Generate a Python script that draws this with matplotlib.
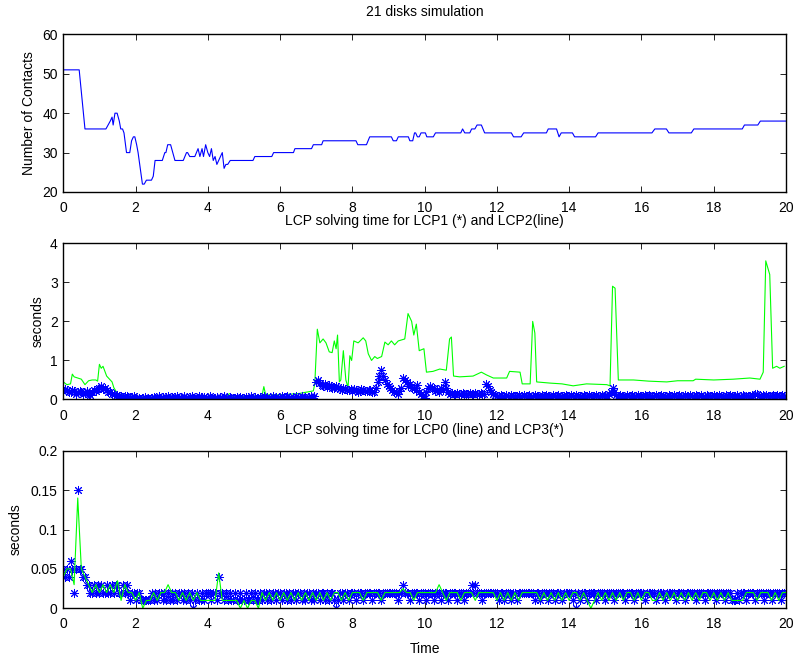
import numpy as np
import matplotlib
matplotlib.use("Agg")
import matplotlib.pyplot as plt

plt.rcParams['font.family'] = ['Liberation Sans', 'DejaVu Sans']
plt.rcParams['font.size'] = 10

# --- top: number of contacts (breakpoints of the trace) ---
contacts_t = [0, 0.44, 0.6, 1.18, 1.24, 1.3, 1.35, 1.38, 1.43, 1.49, 1.55, 1.59, 1.64, 1.68,
              1.75, 1.84, 1.89, 1.94, 1.98, 2.03, 2.07, 2.13, 2.19, 2.24, 2.3, 2.44, 2.49, 2.54,
              2.74, 2.81, 2.84, 2.89, 2.97, 3.03, 3.09, 3.32, 3.41, 3.44, 3.5, 3.64, 3.73, 3.78,
              3.84, 3.88, 3.94, 4.0, 4.05, 4.1, 4.15, 4.2, 4.25, 4.3, 4.4, 4.45, 4.5, 4.55, 4.62,
              5.25, 5.3, 5.77, 5.82, 6.37, 6.41, 6.87, 6.92, 7.15, 7.19, 8.1, 8.15, 8.39, 8.48,
              9.08, 9.13, 9.22, 9.27, 9.55, 9.59, 9.67, 9.72, 9.75, 9.8, 9.85, 9.9, 10.02, 10.06,
              10.24, 10.3, 11.0, 11.05, 11.11, 11.25, 11.3, 11.39, 11.45, 11.57, 11.66, 12.4,
              12.46, 12.67, 12.74, 13.37, 13.42, 13.65, 13.72, 13.78, 14.09, 14.15, 14.73, 14.8,
              16.29, 16.37, 16.69, 16.76, 17.38, 17.45, 18.79, 18.85, 19.22, 19.29, 20.0]
contacts_n = [51, 51, 36, 36, 37, 38, 39, 37, 40, 40, 38, 36, 36, 35,
              30, 30, 33, 34, 34, 32, 30, 26, 22, 22, 23, 23, 24, 28,
              28, 30, 30, 32, 32, 30, 28, 28, 30, 30, 29, 29, 31, 29,
              31, 29, 32, 30, 29, 31, 28, 29, 27, 28, 30, 26, 27, 27, 28,
              28, 29, 29, 30, 30, 31, 31, 32, 32, 33, 33, 32, 32, 34,
              34, 33, 33, 34, 34, 33, 33, 35, 35, 34, 34, 35, 35, 34,
              34, 35, 35, 36, 35, 35, 36, 36, 37, 37, 35, 35,
              34, 34, 35, 35, 36, 36, 34, 35, 35, 34, 34, 35,
              35, 36, 36, 35, 35, 36, 36, 37, 37, 38, 38]

# --- middle: LCP2 (line) breakpoints ---
lcp2_t = [0.0, 0.1, 0.2, 0.25, 0.3, 0.4, 0.5, 0.6, 0.7, 0.8, 0.9, 0.95, 1.0, 1.05, 1.1, 1.2,
          1.25, 1.35, 1.4, 1.5, 1.7, 2.0, 2.5, 3.0, 3.5, 4.0, 4.5, 4.6, 4.7, 5.0, 5.5, 5.55,
          5.6, 6.0, 6.5, 6.92, 6.96, 7.03, 7.1, 7.19, 7.27, 7.36, 7.44, 7.5, 7.55, 7.59, 7.64,
          7.68, 7.75, 7.82, 7.88, 7.93, 7.98, 8.04, 8.16, 8.3, 8.37, 8.44, 8.53, 8.62, 8.69,
          8.81, 8.9, 8.99, 9.08, 9.17, 9.27, 9.45, 9.54, 9.64, 9.7, 9.77, 9.85, 9.98, 10.05,
          10.23, 10.42, 10.6, 10.69, 10.74, 10.8, 10.97, 11.34, 11.57, 11.71, 11.9, 12.27,
          12.35, 12.64, 12.7, 12.92, 12.99, 13.05, 13.1, 13.47, 13.8, 14.11, 14.48, 15.04,
          15.13, 15.2, 15.27, 15.36, 15.78, 16.2, 16.7, 17.0, 17.43, 17.5, 18.0, 18.54, 19.0,
          19.28, 19.37, 19.44, 19.55, 19.63, 19.74, 19.83, 19.95]
lcp2_s = [0.45, 0.38, 0.4, 0.65, 0.58, 0.55, 0.52, 0.38, 0.48, 0.5, 0.5, 0.47, 0.9, 0.8, 0.85, 0.6,
          0.55, 0.45, 0.3, 0.15, 0.1, 0.07, 0.06, 0.08, 0.06, 0.05, 0.08, 0.15, 0.08, 0.08, 0.1, 0.33,
          0.12, 0.12, 0.15, 0.22, 0.4, 1.8, 1.45, 1.55, 1.45, 1.22, 1.2, 1.5, 1.3, 1.65, 0.45,
          0.5, 1.25, 0.5, 0.3, 1.12, 1.0, 1.5, 1.45, 1.58, 1.5, 1.17, 1.0, 1.1, 1.05,
          1.1, 1.47, 1.4, 1.5, 1.4, 1.5, 1.55, 2.2, 2.0, 1.65, 1.93, 1.25, 1.3, 0.7,
          0.72, 0.78, 0.75, 1.55, 1.6, 0.6, 0.58, 0.6, 0.7, 0.63, 0.55, 0.55,
          0.72, 0.7, 0.4, 0.4, 2.0, 1.7, 0.45, 0.42, 0.4, 0.35, 0.4, 0.38,
          0.35, 2.9, 2.85, 0.5, 0.5, 0.47, 0.45, 0.48, 0.48, 0.52, 0.5, 0.52, 0.55,
          0.52, 0.7, 3.55, 3.2, 0.8, 0.85, 0.8, 0.85]

# --- star series, one sample every 0.05 s ---
star_t = np.arange(401) * 0.05

lcp1_s = [0.22, 0.28, 0.25, 0.18, 0.2, 0.25, 0.22, 0.15, 0.18, 0.22,
          0.2, 0.14, 0.17, 0.22, 0.15, 0.12, 0.2, 0.25, 0.22, 0.28,
          0.3, 0.35, 0.27, 0.3, 0.24, 0.2, 0.2, 0.15, 0.15, 0.1,
          0.12, 0.08, 0.1, 0.06, 0.08, 0.1, 0.07, 0.05, 0.06, 0.08,
          0.05, 0.02, 0.04, 0.0, 0.03, 0.06, 0.02, 0.05, 0.01, 0.04,
          0.07, 0.03, 0.05, 0.08, 0.04, 0.06, 0.02, 0.07, 0.09, 0.05,
          0.07, 0.03, 0.06, 0.09, 0.04, 0.06, 0.02, 0.08, 0.05, 0.03,
          0.07, 0.1, 0.05, 0.02, 0.04, 0.08, 0.06, 0.03, 0.07, 0.05,
          0.05, 0.08, 0.03, 0.01, 0.04, 0.06, 0.02, 0.07, 0.04, 0.09,
          0.05, 0.02, 0.06, 0.03, 0.01, 0.05, 0.07, 0.03, 0.06, 0.04,
          0.04, 0.07, 0.02, 0.05, 0.08, 0.03, 0.06, 0.01, 0.04, 0.07,
          0.05, 0.09, 0.03, 0.06, 0.02, 0.05, 0.08, 0.04, 0.07, 0.03,
          0.05, 0.08, 0.03, 0.06, 0.09, 0.04, 0.02, 0.07, 0.05, 0.1,
          0.06, 0.03, 0.08, 0.04, 0.07, 0.02, 0.06, 0.09, 0.05, 0.08,
          0.45, 0.5, 0.42, 0.38, 0.35, 0.4, 0.32, 0.36, 0.35, 0.3,
          0.3, 0.34, 0.33, 0.28, 0.25, 0.3, 0.28, 0.24, 0.25, 0.28,
          0.22, 0.26, 0.25, 0.2, 0.22, 0.27, 0.25, 0.21, 0.22, 0.25,
          0.25, 0.2, 0.2, 0.3, 0.45, 0.6, 0.75, 0.6, 0.5, 0.4,
          0.35, 0.3, 0.25, 0.2, 0.2, 0.15, 0.22, 0.3, 0.55, 0.5,
          0.45, 0.35, 0.4, 0.3, 0.3, 0.25, 0.38, 0.2, 0.15, 0.1,
          0.05, 0.2, 0.3, 0.35, 0.3, 0.3, 0.22, 0.25, 0.2, 0.3,
          0.25, 0.45, 0.3, 0.2, 0.15, 0.17, 0.15, 0.13, 0.16, 0.15,
          0.14, 0.16, 0.15, 0.13, 0.15, 0.17, 0.14, 0.15, 0.16, 0.14,
          0.15, 0.17, 0.15, 0.14, 0.4, 0.35, 0.25, 0.2, 0.15, 0.12,
          0.1, 0.08, 0.12, 0.09, 0.06, 0.11, 0.1, 0.07, 0.12, 0.09,
          0.1, 0.08, 0.11, 0.06, 0.1, 0.12, 0.08, 0.09, 0.11, 0.07,
          0.1, 0.12, 0.08, 0.1, 0.07, 0.11, 0.09, 0.12, 0.08, 0.1,
          0.06, 0.11, 0.09, 0.1, 0.12, 0.07, 0.1, 0.08, 0.11, 0.09,
          0.08, 0.11, 0.1, 0.07, 0.12, 0.09, 0.1, 0.06, 0.11, 0.08,
          0.1, 0.12, 0.09, 0.07, 0.1, 0.11, 0.08, 0.1, 0.12, 0.1,
          0.12, 0.1, 0.15, 0.2, 0.3, 0.2, 0.12, 0.08, 0.11, 0.09,
          0.1, 0.07, 0.12, 0.1, 0.08, 0.11, 0.09, 0.1, 0.12, 0.08,
          0.1, 0.08, 0.11, 0.09, 0.12, 0.1, 0.07, 0.1, 0.11, 0.08,
          0.1, 0.12, 0.09, 0.1, 0.07, 0.11, 0.1, 0.08, 0.12, 0.09,
          0.1, 0.11, 0.08, 0.1, 0.12, 0.09, 0.07, 0.11, 0.1, 0.08,
          0.12, 0.1, 0.09, 0.11, 0.07, 0.1, 0.12, 0.08, 0.1, 0.09,
          0.11, 0.08, 0.1, 0.12, 0.09, 0.1, 0.07, 0.11, 0.1, 0.12,
          0.08, 0.1, 0.09, 0.11, 0.07, 0.1, 0.12, 0.09, 0.1, 0.08,
          0.1, 0.12, 0.09, 0.15, 0.13, 0.1, 0.08, 0.11, 0.1, 0.12,
          0.09, 0.1, 0.08, 0.11, 0.1, 0.12, 0.09, 0.1, 0.11, 0.08,
          0.1]

lcp3_s = [0.05, 0.04, 0.05, 0.04, 0.06, 0.05, 0.02, 0.05, 0.15, 0.05,
          0.05, 0.04, 0.04, 0.03, 0.03, 0.02, 0.02, 0.03, 0.02, 0.03,
          0.02, 0.03, 0.02, 0.02, 0.03, 0.02, 0.02, 0.03, 0.02, 0.03,
          0.03, 0.02, 0.02, 0.03, 0.02, 0.03, 0.02, 0.01, 0.02, 0.02,
          0.01, 0.02, 0.02, 0.01, 0.01, 0.01, 0.01, 0.01, 0.01, 0.02,
          0.01, 0.02, 0.01, 0.02, 0.02, 0.01, 0.02, 0.01, 0.02, 0.01,
          0.02, 0.01, 0.02, 0.01, 0.02, 0.02, 0.01, 0.02, 0.01, 0.02,
          0.01, 0.02, 0.0, 0.01, 0.02, 0.01, 0.01, 0.02, 0.01, 0.02,
          0.02, 0.02, 0.01, 0.02, 0.02, 0.01, 0.04, 0.02, 0.02, 0.01,
          0.02, 0.01, 0.02, 0.01, 0.01, 0.02, 0.01, 0.01, 0.02, 0.01,
          0.01, 0.02, 0.01, 0.01, 0.02, 0.01, 0.02, 0.01, 0.01, 0.02,
          0.01, 0.02, 0.02, 0.01, 0.02, 0.01, 0.02, 0.02, 0.01, 0.02,
          0.02, 0.01, 0.02, 0.02, 0.01, 0.02, 0.01, 0.02, 0.02, 0.01,
          0.02, 0.02, 0.01, 0.02, 0.01, 0.02, 0.02, 0.01, 0.02, 0.01,
          0.02, 0.02, 0.01, 0.02, 0.02, 0.01, 0.02, 0.01, 0.02, 0.02,
          0.01, 0.0, 0.01, 0.02, 0.02, 0.01, 0.02, 0.02, 0.01, 0.02,
          0.02, 0.02, 0.01, 0.02, 0.02, 0.02, 0.01, 0.02, 0.02, 0.02,
          0.02, 0.01, 0.02, 0.02, 0.02, 0.02, 0.01, 0.02, 0.02, 0.02,
          0.02, 0.02, 0.02, 0.02, 0.02, 0.01, 0.02, 0.02, 0.03, 0.02,
          0.02, 0.02, 0.01, 0.02, 0.02, 0.02, 0.02, 0.01, 0.02, 0.02,
          0.02, 0.01, 0.02, 0.02, 0.02, 0.01, 0.02, 0.02, 0.02, 0.01,
          0.02, 0.02, 0.02, 0.01, 0.02, 0.02, 0.02, 0.02, 0.01, 0.02,
          0.02, 0.02, 0.01, 0.02, 0.02, 0.02, 0.03, 0.02, 0.03, 0.02,
          0.02, 0.02, 0.01, 0.02, 0.02, 0.02, 0.02, 0.02, 0.02, 0.02,
          0.02, 0.01, 0.02, 0.02, 0.01, 0.02, 0.02, 0.02, 0.01, 0.02,
          0.02, 0.01, 0.02, 0.02, 0.02, 0.02, 0.02, 0.02, 0.02, 0.02,
          0.02, 0.01, 0.02, 0.02, 0.01, 0.02, 0.02, 0.02, 0.01, 0.02,
          0.02, 0.02, 0.01, 0.02, 0.02, 0.02, 0.01, 0.02, 0.02, 0.02,
          0.02, 0.02, 0.01, 0.02, 0.0, 0.02, 0.01, 0.02, 0.02, 0.02,
          0.01, 0.02, 0.02, 0.02, 0.02, 0.01, 0.02, 0.02, 0.02, 0.02,
          0.01, 0.02, 0.02, 0.02, 0.02, 0.01, 0.02, 0.02, 0.02, 0.02,
          0.02, 0.01, 0.02, 0.02, 0.02, 0.02, 0.01, 0.02, 0.02, 0.02,
          0.02, 0.02, 0.01, 0.02, 0.02, 0.02, 0.02, 0.02, 0.01, 0.02,
          0.02, 0.02, 0.02, 0.01, 0.02, 0.02, 0.02, 0.02, 0.02, 0.01,
          0.02, 0.02, 0.02, 0.02, 0.01, 0.02, 0.02, 0.02, 0.02, 0.02,
          0.01, 0.02, 0.02, 0.02, 0.02, 0.01, 0.02, 0.02, 0.02, 0.02,
          0.02, 0.01, 0.02, 0.02, 0.02, 0.02, 0.01, 0.02, 0.02, 0.02,
          0.01, 0.01, 0.01, 0.02, 0.01, 0.02, 0.02, 0.02, 0.01, 0.02,
          0.02, 0.02, 0.02, 0.01, 0.02, 0.02, 0.02, 0.02, 0.01, 0.02,
          0.02, 0.02, 0.01, 0.02, 0.02, 0.02, 0.02, 0.01, 0.02, 0.02,
          0.02]

# --- bottom line: LCP0, one sample every 0.1 s ---
line_t = np.arange(201) * 0.1

lcp0_s = [0.04, 0.05, 0.05, 0.03, 0.14, 0.05, 0.04, 0.03, 0.02, 0.03,
          0.02, 0.03, 0.02, 0.03, 0.02, 0.035, 0.01, 0.03, 0.02, 0.02,
          0.01, 0.02, 0.0, 0.01, 0.01, 0.02, 0.01, 0.02, 0.02, 0.03,
          0.02, 0.02, 0.01, 0.02, 0.01, 0.02, 0.01, 0.02, 0.01, 0.01,
          0.01, 0.01, 0.01, 0.045, 0.01, 0.01, 0.01, 0.01, 0.01, 0.0,
          0.01, 0.0, 0.01, 0.01, 0.0, 0.02, 0.01, 0.02, 0.01, 0.02,
          0.01, 0.02, 0.01, 0.02, 0.01, 0.02, 0.01, 0.02, 0.01, 0.02,
          0.01, 0.02, 0.01, 0.02, 0.01, 0.02, 0.02, 0.01, 0.02, 0.01,
          0.02, 0.02, 0.02, 0.01, 0.02, 0.02, 0.02, 0.02, 0.01, 0.02,
          0.02, 0.02, 0.02, 0.02, 0.025, 0.02, 0.02, 0.01, 0.02, 0.02,
          0.02, 0.02, 0.02, 0.02, 0.03, 0.02, 0.01, 0.02, 0.02, 0.02,
          0.01, 0.02, 0.02, 0.02, 0.01, 0.02, 0.02, 0.02, 0.02, 0.02,
          0.01, 0.02, 0.01, 0.02, 0.01, 0.02, 0.01, 0.02, 0.02, 0.02,
          0.02, 0.02, 0.01, 0.02, 0.01, 0.02, 0.01, 0.02, 0.01, 0.02,
          0.01, 0.02, 0.02, 0.01, 0.02, 0.01, 0.0, 0.01, 0.02, 0.01,
          0.02, 0.01, 0.02, 0.01, 0.02, 0.01, 0.02, 0.02, 0.01, 0.02,
          0.01, 0.02, 0.02, 0.01, 0.01, 0.02, 0.01, 0.02, 0.01, 0.02,
          0.01, 0.02, 0.01, 0.02, 0.01, 0.02, 0.01, 0.02, 0.02, 0.01,
          0.02, 0.01, 0.02, 0.01, 0.02, 0.01, 0.01, 0.01, 0.01, 0.02,
          0.02, 0.02, 0.01, 0.02, 0.02, 0.02, 0.01, 0.02, 0.01, 0.02,
          0.02]

xticks = np.arange(0, 21, 2)
star = (8, 2, 0)


def style_axes(ax):
    ax.set_xlim(0, 20)
    ax.set_xticks(xticks)
    ax.tick_params(direction='in', top=True, right=True, length=4, width=0.6,
                   labelsize=10)
    ax.tick_params(axis='x', pad=6.5)
    ax.tick_params(axis='y', pad=4)
    for sp in ax.spines.values():
        sp.set_linewidth(1.0)


fig = plt.figure(figsize=(7.97, 6.6), dpi=100)
ax1 = fig.add_axes([0.0794, 0.7091, 0.9068, 0.2388])
ax2 = fig.add_axes([0.0794, 0.3947, 0.9068, 0.2367])
ax3 = fig.add_axes([0.0794, 0.0783, 0.9068, 0.2388])

ax1.plot(contacts_t, contacts_n, color='b', lw=0.8)
style_axes(ax1)
ax1.set_ylim(20, 60)
ax1.set_yticks([20, 30, 40, 50, 60])
ax1.set_ylabel('Number of Contacts', va='center')
ax1.yaxis.set_label_coords(-0.048, 0.5)

ax2.plot(lcp2_t, lcp2_s, color=(0, 1, 0), lw=0.8)
ax2.plot(star_t, lcp1_s, linestyle='none', marker=star, color='b',
         markersize=6.5, markeredgewidth=0.7)
style_axes(ax2)
ax2.set_ylim(0, 4)
ax2.set_yticks([0, 1, 2, 3, 4])
ax2.set_ylabel('seconds', va='center')
ax2.yaxis.set_label_coords(-0.035, 0.5)

ax3.plot(star_t, lcp3_s, linestyle='none', marker=star, color='b',
         markersize=6.5, markeredgewidth=0.7)
ax3.plot(line_t, lcp0_s, color=(0, 1, 0), lw=0.8)
style_axes(ax3)
ax3.set_ylim(0, 0.2)
ax3.set_yticks([0, 0.05, 0.1, 0.15, 0.2])
ax3.set_yticklabels(['0', '0.05', '0.1', '0.15', '0.2'])
ax3.set_ylabel('seconds', va='center')
ax3.yaxis.set_label_coords(-0.066, 0.5)

fig.text(0.533, 0.982, '21 disks simulation', ha='center', va='center', fontsize=10)
fig.text(0.533, 0.665, 'LCP solving time for LCP1 (*) and LCP2(line)', ha='center', va='center', fontsize=10)
fig.text(0.533, 0.348, 'LCP solving time for LCP0 (line) and LCP3(*)', ha='center', va='center', fontsize=10)
fig.text(0.533, 0.017, 'Time', ha='center', va='center', fontsize=10)

fig.savefig('out.png', dpi=100)
